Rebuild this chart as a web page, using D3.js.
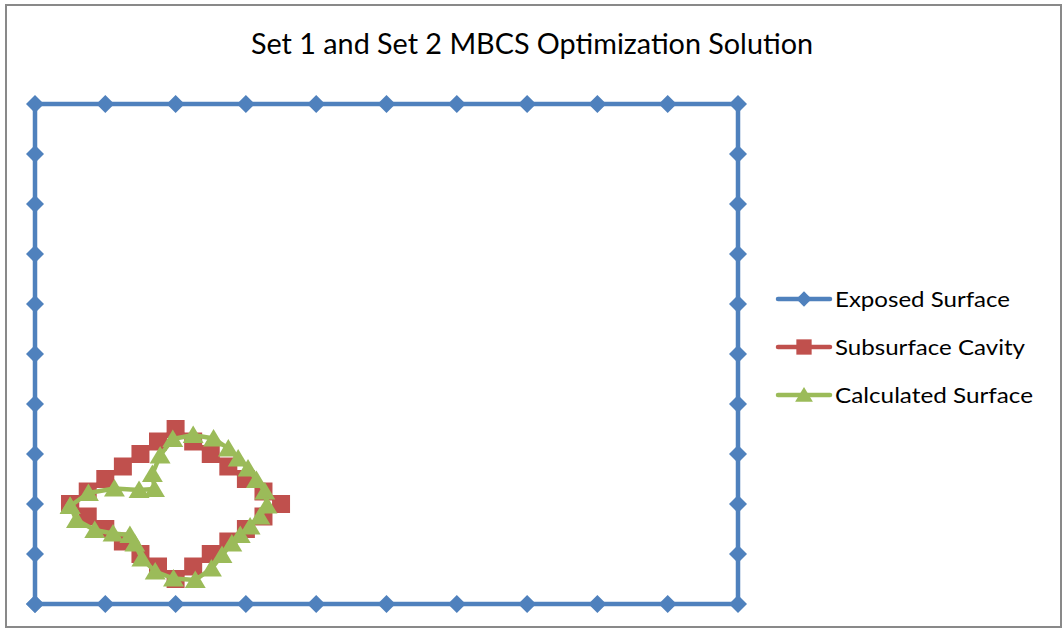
<!DOCTYPE html>
<html>
<head>
<meta charset="utf-8">
<title>Set 1 and Set 2 MBCS Optimization Solution</title>
<script src="https://d3js.org/d3.v7.min.js"></script>
<style>
    body { margin: 0; background: #fff; }
    .title { font-family: Lato, "Open Sans", sans-serif; font-size: 28px; fill: #000; }
    .legend text { font-family: Lato, "Open Sans", sans-serif; font-size: 22px; fill: #000; }
</style>
</head>
<body>
<script>
// series data: [x, y]
var exposedX = [0,1,2,3,4,5,6,7,8,9,10, 10,10,10,10,10,10,10,10,10,10, 9,8,7,6,5,4,3,2,1,0, 0,0,0,0,0,0,0,0,0,0];
var exposedY = [0,0,0,0,0,0,0,0,0,0,0, 1,2,3,4,5,6,7,8,9,10, 10,10,10,10,10,10,10,10,10,10, 9,8,7,6,5,4,3,2,1,0];

var cavityX = [0.5,0.75,1,1.25,1.5,1.75,2, 2.25,2.5,2.75,3,3.25,3.5, 3.25,3,2.75,2.5,2.25,2, 1.75,1.5,1.25,1,0.75,0.5];
var cavityY = [2,2.25,2.5,2.75,3,3.25,3.5, 3.25,3,2.75,2.5,2.25,2, 1.75,1.5,1.25,1,0.75,0.5, 0.75,1,1.25,1.5,1.75,2];

var calcX = [0.5,0.76,1.13,1.48,1.7,1.67,1.78,1.96,2.25,2.54,2.75,2.89,3.03,3.15,3.27,3.3,3.2,3.06,2.92,2.8,2.66,2.51,2.28,1.97,1.71,1.52,1.42,1.35,1.11,0.85,0.59,0.5];
var calcY = [1.96,2.22,2.31,2.28,2.3,2.6,2.97,3.3,3.38,3.31,3.11,2.91,2.71,2.48,2.25,1.97,1.75,1.55,1.38,1.21,0.98,0.71,0.48,0.51,0.65,0.91,1.21,1.38,1.41,1.48,1.68,1.96];

var seriesNames = ["Exposed Surface", "Subsurface Cavity", "Calculated Surface"];
var legendWidths = [175, 190, 198];
var titleText = "Set 1 and Set 2 MBCS Optimization Solution";

var width = 1063, height = 629;

var svg = d3.select("body").append("svg")
    .attr("width", width)
    .attr("height", height);

svg.append("rect")
    .attr("x", 6).attr("y", 5)
    .attr("width", 1055).attr("height", 622)
    .attr("fill", "#fff")
    .attr("stroke", "#898989")
    .attr("stroke-width", 2);

svg.append("text")
    .attr("class", "title")
    .attr("x", 532).attr("y", 54)
    .attr("text-anchor", "middle")
    .attr("textLength", 562)
    .attr("lengthAdjust", "spacingAndGlyphs")
    .text(titleText);

var x = d3.scaleLinear().domain([0, 10]).range([35, 738]);
var y = d3.scaleLinear().domain([0, 10]).range([604, 104]);

function zip(xs, ys) {
    return xs.map(function(d, i) { return [d, ys[i]]; });
}

// marker shapes (Excel style)
function diamond(s) { return "M0," + (-s) + "L" + s + ",0L0," + s + "L" + (-s) + ",0Z"; }
function square(s) { return "M" + (-s) + "," + (-s) + "h" + (2*s) + "v" + (2*s) + "h" + (-2*s) + "Z"; }
function triangle(s) { return "M0," + (-s) + "L" + (s*1.1) + "," + (s*0.85) + "L" + (-s*1.1) + "," + (s*0.85) + "Z"; }

var series = [
    { name: seriesNames[0], data: zip(exposedX, exposedY), color: "#4F81BD", marker: diamond, size: 9 },
    { name: seriesNames[1], data: zip(cavityX, cavityY), color: "#C0504D", marker: square, size: 9 },
    { name: seriesNames[2], data: zip(calcX, calcY), color: "#9BBB59", marker: triangle, size: 9.5 }
];

var line = d3.line()
    .x(function(d) { return x(d[0]); })
    .y(function(d) { return y(d[1]); });

series.forEach(function(s) {
    var g = svg.append("g");
    g.append("path")
        .attr("d", line(s.data))
        .attr("fill", "none")
        .attr("stroke", s.color)
        .attr("stroke-width", 4.5)
        .attr("stroke-linejoin", "round");
    g.selectAll("path.mark")
        .data(s.data)
        .enter()
        .append("path")
        .attr("class", "mark")
        .attr("transform", function(d) { return "translate(" + x(d[0]) + "," + y(d[1]) + ")"; })
        .attr("d", s.marker(s.size))
        .attr("fill", s.color);
});

// legend
var legend = svg.append("g").attr("class", "legend");
series.forEach(function(s, i) {
    var ly = 299 + i * 48;
    legend.append("line")
        .attr("x1", 778).attr("x2", 830)
        .attr("y1", ly).attr("y2", ly)
        .attr("stroke", s.color)
        .attr("stroke-width", 4.5)
        .attr("stroke-linecap", "round");
    legend.append("path")
        .attr("transform", "translate(804," + ly + ")")
        .attr("d", s.marker(s.size * 0.85))
        .attr("fill", s.color);
    legend.append("text")
        .attr("x", 835).attr("y", ly + 8)
        .attr("textLength", legendWidths[i])
        .attr("lengthAdjust", "spacingAndGlyphs")
        .text(s.name);
});
</script>
</body>
</html>
